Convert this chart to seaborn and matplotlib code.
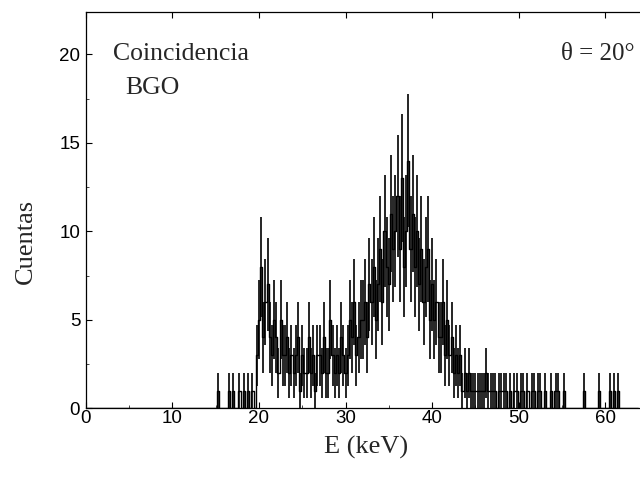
import numpy as np
import pandas as pd
import matplotlib
matplotlib.use("Agg")
import matplotlib.pyplot as plt
import seaborn as sns

# Spectrum: counts per 0.25 keV channel, starting at 14.0 keV
e_start = 14.0
e_step = 0.25
counts = [
    0, 0, 0, 0,   # 14
    0, 1, 0, 0,   # 15
    0, 0, 1, 0,   # 16
    1, 0, 0, 1,   # 17
    0, 1, 0, 1,   # 18
    0, 1, 0, 3,   # 19
    5, 8, 4, 6,   # 20
    7, 4, 3, 5,   # 21
    4, 2, 5, 3,   # 22
    3, 4, 2, 3,   # 23
    2, 3, 4, 1,   # 24
    3, 2, 2, 4,   # 25
    2, 3, 1, 3,   # 26
    3, 2, 4, 2,   # 27
    2, 5, 3, 2,   # 28
    3, 2, 4, 3,   # 29
    2, 3, 5, 4,   # 30
    6, 3, 4, 5,   # 31
    5, 6, 4, 7,   # 32
    6, 8, 5, 7,   # 33
    9, 6, 10, 8,  # 34
    7, 11, 9, 10, # 35
    12, 9, 13, 8, # 36
    10, 14, 9, 11,# 37
    8, 10, 7, 9,  # 38
    6, 8, 9, 5,   # 39
    7, 5, 6, 4,   # 40
    4, 6, 3, 5,   # 41
    3, 4, 2, 3,   # 42
    2, 3, 1, 2,   # 43
    1, 2, 1, 1,   # 44
    1, 1, 1, 1,   # 45
    1, 2, 1, 1,   # 46
    1, 1, 0, 1,   # 47
    1, 1, 1, 0,   # 48
    1, 0, 1, 1,   # 49
    0, 1, 1, 0,   # 50
    1, 0, 1, 1,   # 51
    0, 1, 1, 0,   # 52
    1, 0, 0, 1,   # 53
    0, 1, 1, 0,   # 54
    0, 1, 0, 0,   # 55
    0, 0, 0, 0,   # 56
    0, 0, 1, 0,   # 57
    0, 0, 0, 0,   # 58
    0, 1, 0, 0,   # 59
    0, 0, 1, 0,   # 60
    1, 0, 1, 0,   # 61
    0, 0, 0, 0,   # 62
    0, 0, 0, 0,   # 63
]

x_ticks = [0, 10, 20, 30, 40, 50, 60]
y_ticks = [0, 5, 10, 15, 20]
x_label = "E (keV)"
y_label = "Cuentas"
text_1 = "Coincidencia"
text_2 = "BGO"
text_3 = "θ = 20°"

energy = e_start + e_step * np.arange(len(counts))
cnt = np.array(counts, dtype=float)
err = np.sqrt(cnt)
# zero baseline from 0 keV
energy_full = np.concatenate([[0.0], energy])
cnt_full = np.concatenate([[0.0], cnt])
df = pd.DataFrame({"E": energy_full, "N": cnt_full})

sns.set_style("ticks")
plt.rcParams["font.family"] = ["Liberation Sans", "DejaVu Sans"]

fig = plt.figure(figsize=(6.4, 4.78), dpi=100)
ax = fig.add_axes([0.134, 0.146, 0.866, 0.829])

sns.lineplot(data=df, x="E", y="N", drawstyle="steps-mid", color="black",
             linewidth=1.0, ax=ax, estimator=None)
mask = cnt > 0
ax.errorbar(energy[mask], cnt[mask], yerr=err[mask], fmt="none",
            ecolor="black", elinewidth=1.2, capsize=0)

ax.set_xlim(0, 64)
ax.set_ylim(0, 22.4)
ax.set_xticks(x_ticks)
ax.set_yticks(y_ticks)
ax.set_xticks(np.arange(5, 64, 10), minor=True)
ax.set_yticks(np.arange(2.5, 22.4, 5), minor=True)
ax.tick_params(axis="both", which="major", direction="in", length=4,
               width=0.8, labelsize=13.5, top=True, right=False, colors="black")
ax.tick_params(axis="both", which="minor", direction="in", length=2,
               width=0.6, top=False, right=False)
ax.tick_params(axis="x", pad=1)
ax.tick_params(axis="y", pad=4)
for s in ["top", "bottom", "left"]:
    ax.spines[s].set_linewidth(0.9)
    ax.spines[s].set_color("black")
ax.spines["right"].set_visible(False)

serif = ["Liberation Serif", "DejaVu Serif"]
ax.set_xlabel(x_label, fontsize=19, family=serif)
ax.set_ylabel(y_label, fontsize=19, family=serif)
ax.xaxis.set_label_coords(0.505, -0.07)
ax.yaxis.set_label_coords(-0.088, 0.42)

ax.text(3.1, 20.0, text_1, fontsize=18.5, family=serif, va="center", ha="left")
ax.text(7.7, 18.1, text_2, fontsize=18.5, family=serif, va="center", ha="center")
ax.text(63.4, 20.0, text_3, fontsize=18, family=serif, va="center", ha="right")

fig.savefig("out.png", dpi=100)
